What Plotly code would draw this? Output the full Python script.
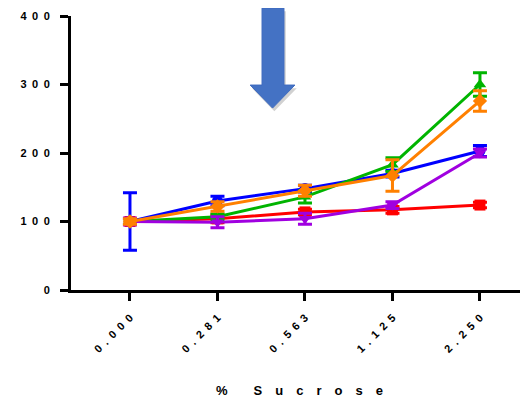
import plotly.graph_objects as go

categories = ["0.000", "0.281", "0.563", "1.125", "2.250"]
y_ticks = [0, 100, 200, 300, 400]

blue = [100, 130, 148, 170, 203]
blue_err = [42, 7, 5, 5, 8]
red = [100, 104, 114, 117, 124]
red_err = [4, 6, 4, 5, 4]
green = [100, 107, 136, 183, 300]
green_err = [4, 4, 9, 10, 17]
purple = [100, 99, 104, 124, 200]
purple_err = [5, 8, 8, 5, 6]
orange = [100, 122, 145, 167, 276]
orange_err = [4, 7, 8, 23, 15]

EN = "\u2002"
def spaced(s, sep=EN):
    return sep.join(list(s))

series = [
    ("blue", blue, blue_err, "#0000FF", "circle"),
    ("red", red, red_err, "#FF0000", "square"),
    ("green", green, green_err, "#00B400", "triangle-up"),
    ("purple", purple, purple_err, "#A000E0", "triangle-down"),
    ("orange", orange, orange_err, "#FF8000", "diamond"),
]

fig = go.Figure()
for name, vals, errs, col, sym in series:
    fig.add_trace(go.Scatter(
        x=categories, y=vals, name=name, mode="lines+markers",
        line=dict(color=col, width=3),
        marker=dict(color=col, symbol=sym, size=11),
        error_y=dict(type="data", array=errs, visible=True, color=col,
                     thickness=3, width=7),
        showlegend=False,
    ))

font_family = "Liberation Sans, Arial, sans-serif"

fig.update_layout(
    width=520, height=391,
    margin=dict(l=63, r=0, t=8, b=109),
    paper_bgcolor="white", plot_bgcolor="white",
    font=dict(family=font_family, color="black"),
    xaxis=dict(
        type="category",
        range=[-0.674, 4.549],
        tickmode="array",
        tickvals=categories,
        ticktext=["<b>" + spaced(c) + "</b>" for c in categories],
        tickangle=-45,
        tickfont=dict(size=11, family=font_family, color="black"),
        ticks="outside", ticklen=8, tickwidth=3, tickcolor="black",
        ticklabelstandoff=6,
        showline=True, linewidth=3, linecolor="black",
        showgrid=False, zeroline=False, automargin=False,
    ),
    yaxis=dict(
        range=[0, 400],
        tickmode="array",
        tickvals=y_ticks,
        ticktext=["<b>" + spaced(str(v)) + "</b>" for v in y_ticks],
        tickfont=dict(size=11, family=font_family, color="black"),
        ticks="outside", ticklen=8, tickwidth=3, tickcolor="black",
        ticklabelstandoff=8,
        showline=True, linewidth=3, linecolor="black",
        showgrid=False, zeroline=False, automargin=False,
    ),
)

fig.add_annotation(
    text="<b>%" + "\u2003\u2003" + spaced("Sucrose", "\u2003") + "</b>",
    xref="paper", yref="paper", x=0.501, y=-0.365,
    xanchor="center", yanchor="middle", showarrow=False,
    font=dict(size=13, family=font_family, color="black"),
)

# Block arrow annotation (paper coordinates)
def arrow_path(dx=0.0, dy=0.0):
    pts = [(0.418, 1.029), (0.466, 1.029), (0.466, 0.748), (0.490, 0.748),
           (0.441, 0.664), (0.392, 0.748), (0.418, 0.748)]
    return "M " + " L ".join(f"{x+dx},{y+dy}" for x, y in pts) + " Z"

fig.add_shape(type="path", xref="paper", yref="paper", path=arrow_path(0.004, -0.012),
              fillcolor="rgba(0,0,0,0.18)", line=dict(width=0), layer="above")
fig.add_shape(type="path", xref="paper", yref="paper", path=arrow_path(),
              fillcolor="#4472C4", line=dict(color="#3F6BBF", width=1), layer="above")

fig.write_html("out.html")
